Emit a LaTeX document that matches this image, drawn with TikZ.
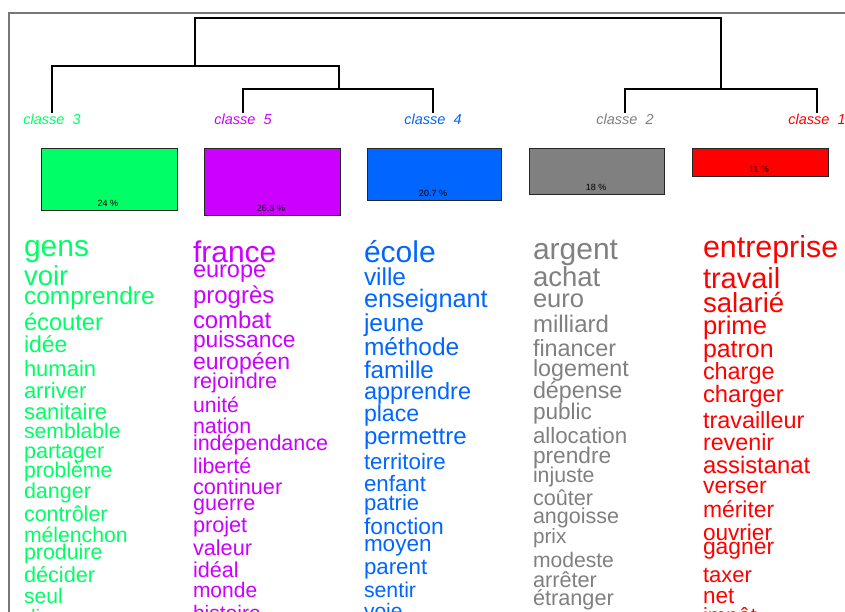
\documentclass[tikz,border=0pt]{standalone}
\usepackage{fontspec}
\setmainfont{Liberation Sans}
\definecolor{cgreen}{RGB}{0,255,102}
\definecolor{cpurple}{RGB}{204,0,255}
\definecolor{cblue}{RGB}{0,102,255}
\definecolor{cgray}{RGB}{128,128,128}
\definecolor{cred}{RGB}{255,0,0}
\definecolor{framegray}{RGB}{120,120,120}
\tikzset{
  word/.style={anchor=base west, inner sep=0pt, outer sep=0pt},
  lab/.style={anchor=base, inner sep=0pt, font=\fontsize{14.5}{14.5}\selectfont\itshape},
  clbox/.style={draw=black!85, line width=1.3pt, anchor=north west, inner sep=0pt},
  pct/.style={anchor=base, inner sep=0pt, font=\fontsize{9}{9}\selectfont, text=black},
  tree/.style={line width=1.1pt, black}
}
\begin{document}
\begin{tikzpicture}[x=1pt,y=-1pt]
\clip (0,0) rectangle (845,612);
\fill[white] (0,0) rectangle (845,612);
\draw[framegray, line width=2pt] (9,612) -- (9,13) -- (845,13);

% class labels
\node[lab, text=cgreen] (L3) at (52,125) {classe\ \ 3};
\node[lab, text=cpurple] (L5) at (243,125) {classe\ \ 5};
\node[lab, text=cblue] (L4) at (433,125) {classe\ \ 4};
\node[lab, text=cgray] (L2) at (625,125) {classe\ \ 2};
\node[lab, text=cred] (L1) at (817,125) {classe\ \ 1};

% dendrogram
\coordinate (t3) at (52,113);
\coordinate (t5) at (243,113);
\coordinate (t4) at (433,113);
\coordinate (t2) at (625,113);
\coordinate (t1) at (817,113);
\coordinate (j54) at (339,89);
\coordinate (j354) at (195,66);
\coordinate (j21) at (721,89);
\coordinate (rootL) at (195,18);
\coordinate (rootR) at (721,18);
\draw[tree] (t5) |- (j54) -| (t4);
\draw[tree] (t3) |- (j354);
\draw[tree] (j54) |- (j354);
\draw[tree] (t2) |- (j21) -| (t1);
\draw[tree] (j354) -- (rootL) -- (rootR) -- (j21);

% boxes
\node[clbox, fill=cgreen, minimum width=136pt, minimum height=62pt] (B3) at (41,148) {};
\node[clbox, fill=cpurple, minimum width=136pt, minimum height=67pt] (B5) at (204,148) {};
\node[clbox, fill=cblue, minimum width=134pt, minimum height=52pt] (B4) at (367,148) {};
\node[clbox, fill=cgray, minimum width=135pt, minimum height=46pt] (B2) at (529,148) {};
\node[clbox, fill=cred, minimum width=136pt, minimum height=28pt] (B1) at (692,148) {};
\node[pct] (P3) at (108,207) {24 \%};
\node[pct] (P5) at (271,212) {26.3 \%};
\node[pct] (P4) at (433,197) {20.7 \%};
\node[pct] (P2) at (596,191) {18 \%};
\node[pct] (P1) at (759,173) {11 \%};

% words
\foreach \w/\b/\s [count=\i] in {gens/256/30, voir/285/27.5, comprendre/304/24.5, écouter/330/23.7, idée/352/23, humain/376/22, arriver/398/22, sanitaire/419/22, semblable/438/21.2, partager/458/21.6, problème/477/21.2, danger/498/21.5, contrôler/521/21.5, mélenchon/542/21.2, produire/559/21.4, décider/582/21.7, seul/603/21.1, discours/624/21}
  \node[word, text=cgreen, font=\fontsize{\s}{\s}\selectfont] (g\i) at (24,\b) {\w};

\foreach \w/\b/\s [count=\i] in {france/262/30, europe/277/23.5, progrès/303/24, combat/328/23.9, puissance/347/22.8, européen/369/23, rejoindre/388/21.6, unité/412/21.2, nation/433/21.4, indépendance/450/21.5, liberté/473/21.4, continuer/494/21.7, guerre/510/21.6, projet/532/21.7, valeur/555/21.7, idéal/577/21.6, monde/597/21, histoire/620/21}
  \node[word, text=cpurple, font=\fontsize{\s}{\s}\selectfont] (p\i) at (193,\b) {\w};

\foreach \w/\b/\s [count=\i] in {école/262/30, ville/285/24.4, enseignant/307/25.3, jeune/331/24.5, méthode/355/24.5, famille/378/24.2, apprendre/399/23.5, place/421/23.1, permettre/444/24, territoire/469/22.3, enfant/491/22.3, patrie/510/22.1, fonction/534/22.8, moyen/551/22.5, parent/574/22.3, sentir/597/21.3, voie/618/21}
  \node[word, text=cblue, font=\fontsize{\s}{\s}\selectfont] (b\i) at (364,\b) {\w};

\foreach \w/\b/\s [count=\i] in {argent/259/30, achat/286/27.5, euro/307/25.5, milliard/332/24, financer/356/23.4, logement/376/23.3, dépense/398/23.3, public/419/22.6, allocation/443/22.3, prendre/463/22.7, injuste/482/21.3, coûter/505/21.6, angoisse/523/21.5, prix/543/20.7, modeste/567/21.1, arrêter/587/21.7, étranger/605/21.7}
  \node[word, text=cgray, font=\fontsize{\s}{\s}\selectfont] (a\i) at (533,\b) {\w};

\foreach \w/\b/\s [count=\i] in {entreprise/258/30.4, travail/288/29, salarié/312/27.6, prime/334/25.6, patron/357/24.9, charge/379/23.4, charger/402/23.8, travailleur/428/23.4, revenir/450/23.3, assistanat/473/23.8, verser/493/23, mériter/517/22.9, ouvrier/540/22.6, gagner/554/22.9, taxer/582/22, net/603/22.5, impôt/623/22}
  \node[word, text=cred, font=\fontsize{\s}{\s}\selectfont] (r\i) at (703,\b) {\w};
\end{tikzpicture}
\end{document}
